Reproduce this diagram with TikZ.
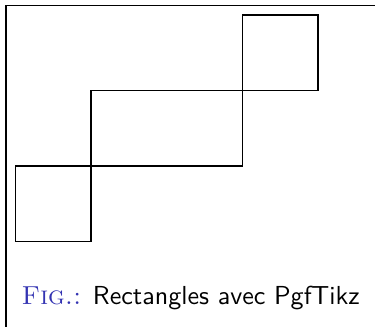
\documentclass[tikz,border=0pt]{standalone}
\usepackage{tikz}
\usetikzlibrary{positioning}
\definecolor{capblue}{rgb}{0.2,0.2,0.7}

\begin{document}
\begin{tikzpicture}
    \tikzstyle{box} = [draw, line width=0.5pt]
    \tikzstyle{frame} = [draw, line width=0.5pt]
    \useasboundingbox (-0.205,-1.128) rectangle (4.755,3.197);

    % Frame
    \coordinate (fbl) at (-0.126,-1.2);
    \coordinate (ftl) at (-0.126,3.124);
    \coordinate (ftr) at (4.9,3.124);
    \draw[frame] (fbl) -- (ftl) -- (ftr);
    % Rectangles
    \draw[box] (0,0) rectangle (1,1);
    \draw[box] (1,1) rectangle (3,2);
    \draw[box] (3,2) rectangle (4,3);
    % Caption
    \node[anchor=base west, inner sep=0pt, font=\fontsize{9.8}{12}\selectfont]
        (caption) at (0.075,-0.83)
        {{\color{capblue}\textsc{Fig.:}} \textsf{Rectangles avec PgfTikz}};
\end{tikzpicture}
\end{document}
